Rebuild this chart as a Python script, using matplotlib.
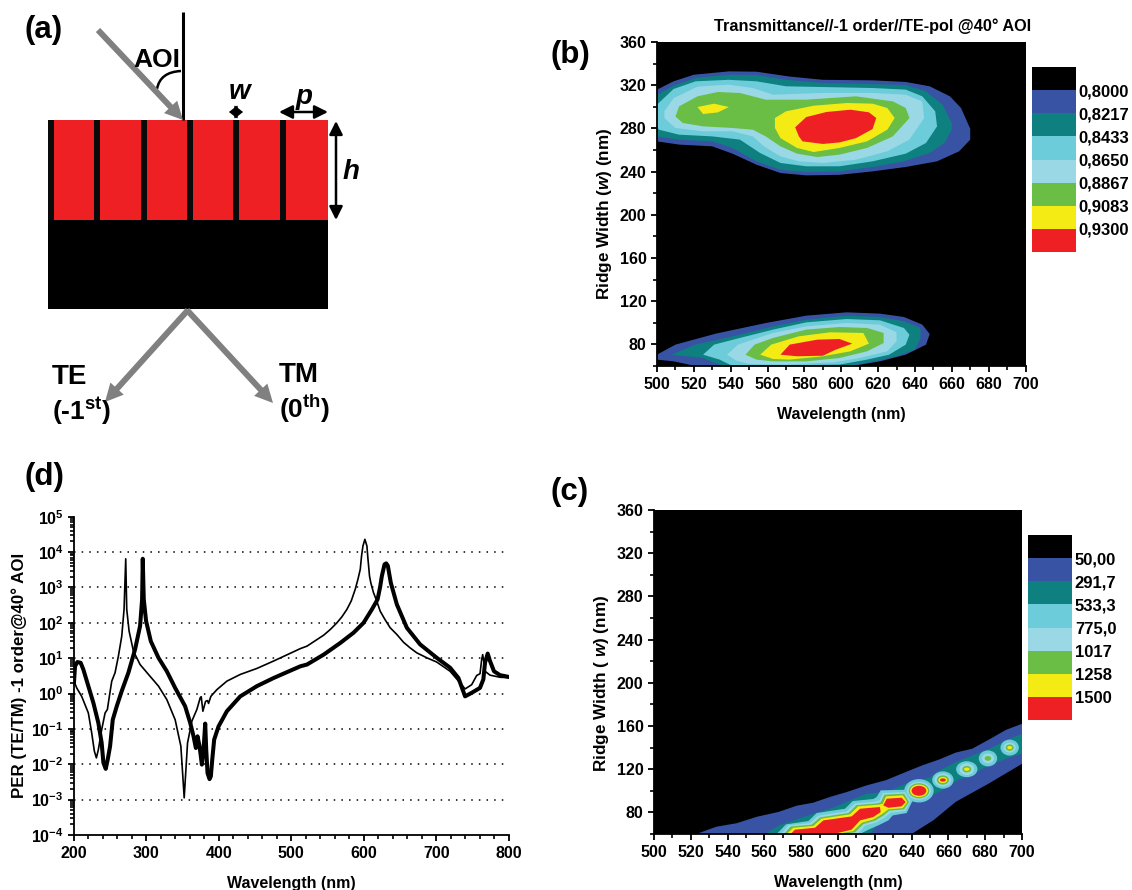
import matplotlib
matplotlib.use("Agg")
import matplotlib.pyplot as plt
import numpy as np
from matplotlib.patches import Ellipse, Rectangle, PathPatch
from matplotlib.path import Path
from matplotlib.ticker import MultipleLocator, FixedLocator, NullFormatter

plt.rcParams['font.family'] = ['Liberation Sans', 'DejaVu Sans']
plt.rcParams['font.weight'] = 'bold'
plt.rcParams['axes.labelweight'] = 'bold'
plt.rcParams['mathtext.fontset'] = 'custom'
plt.rcParams['mathtext.rm'] = 'Liberation Sans:bold'
plt.rcParams['mathtext.bf'] = 'Liberation Sans:bold'
plt.rcParams['mathtext.it'] = 'Liberation Sans:italic:bold'
plt.rcParams['mathtext.default'] = 'rm'

W, H = 1132, 890

# contour colours, lowest level (black) to highest
colors = ['#000000', '#3953A4', '#0E8080', '#6DCCDA', '#9AD8E6', '#6ABD45', '#F5EB14', '#EE2024']

# legend labels
b_levels = ['0,8000', '0,8217', '0,8433', '0,8650', '0,8867', '0,9083', '0,9300']
c_levels = ['50,00', '291,7', '533,3', '775,0', '1017', '1258', '1500']

# (b) upper lobe contour outlines, (wavelength, width)
b_up_1 = [(500,315.9),(509,323.6),(520,329.7),(539,332.8),(554,332.5),(572,328),(590,325),(617,324.5),(635,323),(648,319),(659,309.7),(665,298.9),(670,279.7),(670,269.6),(664,258.8),(652,249.5),(635,244.3),(617,240.2),(599,237),(581,236.5),(567,238.7),(554,246.4),(541,256.6),(530,263.4),(512,265),(500,268)]
b_up_2 = [(500,311),(509,319.6),(521,326.7),(539,329.7),(554,329.4),(570,325),(590,322),(617,321),(635,320),(646,314.3),(655,302),(660,285),(660,278.8),(656,266.5),(648,257.2),(634,249.5),(617,244.3),(599,240.2),(581,239.6),(567,241.8),(554,249.5),(541,261.9),(530,268),(512,269.6),(500,272.6)]
b_up_3 = [(500,302),(509,316.5),(521,323.6),(539,325),(554,323.6),(570,319),(590,318.3),(617,317.4),(635,315.9),(644,309.7),(651,295.8),(652,281.9),(646,266.5),(635,256.6),(617,249.5),(599,244.9),(581,244.9),(567,248),(556,257.2),(545,269.6),(530,272.6),(512,274.2),(501,278.8),(500,281.9)]
b_up_4 = [(504,295.8),(509,308),(522,318.7),(539,320.5),(552,317.4),(563,311.2),(590,312.8),(617,312.8),(635,311.2),(644,305),(645,289.6),(637,269.6),(625,258.8),(608,251),(590,248),(577,249.5),(567,254.1),(558,263.4),(552,272.6),(541,277.3),(525,277.3),(510,280.4),(504,289.6)]
b_up_5 = [(510,291),(512,300.4),(522,309.7),(533,313.7),(545,312.8),(559,306.6),(581,306.6),(608,309.7),(628,305),(635,298.9),(637,289.6),(628,272.6),(614,261.9),(599,255.7),(587,253.5),(576,256.6),(567,263.4),(559,272.6),(552,278.8),(541,280.4),(525,281.9),(514,285)]
b_up_6 = [(564,289.6),(570,295.8),(585,301),(603,303.5),(617,302.9),(625,298.9),(629,289.6),(625,278.8),(614,268),(599,261.9),(585,258.1),(576,261.9),(567,271),(564,280.4)]
b_up_6b = [(522,299.8),(531,302.9),(539,299.8),(533,294.8),(525,293.3)]
b_up_7 = [(575,281),(581,290.5),(592,295.2),(605,297.3),(615,294.9),(619,289.6),(617,279.4),(608,271),(599,267),(590,265.6),(579,268),(577,272.6)]

# (b) lower lobe
b_lo_1 = [(500,70.5),(510,79.8),(532,90),(559,99.8),(581,106.6),(603,109.7),(621,108.5),(634,105.4),(644,98.3),(648,89.6),(646,79.8),(635,70.5),(621,64.3),(606,60),(521,60),(509,64.3),(500,65.9)]
b_lo_2 = [(508,70.5),(521,79.8),(545,89),(563,96.7),(581,102.9),(603,106.6),(621,105.4),(634,101.4),(643,95.2),(643,86),(640,75.1),(630,69),(615,63.4),(605,60),(536,60),(525,67.4)]
b_lo_3 = [(525,70.5),(531,79.8),(545,86),(563,93.7),(581,100.4),(603,103.5),(621,102.3),(634,95.2),(637,89),(635,79.8),(626,70.5),(614,65.9),(599,61.3),(541,60),(534,65.9)]
b_lo_4 = [(538,70.5),(544,79.8),(563,90.6),(581,96.7),(603,99.8),(621,98.3),(630,91.2),(630,82.9),(625,73.6),(610,67.4),(596,63.4),(570,61.3),(550,61.9),(543,65)]
b_lo_5 = [(548,70.5),(553,79.8),(563,86),(581,93.7),(599,96.1),(614,95.2),(623,90.6),(623,81.3),(614,73.6),(599,67.4),(581,64.3),(563,64.3),(554,65.9)]
b_lo_6 = [(556,70.5),(562,79.8),(577,87.5),(594,91.2),(612,90.6),(615,80.7),(605,73.6),(590,69),(572,65.9),(563,66.5)]
b_lo_7 = [(567,70.5),(572,79.8),(587,84.4),(599,85),(606,80.7),(597,75.1),(590,69.5),(576,69)]

# (c) diagonal band outlines
c_1 = [(523,60),(534,66.8),(545,70),(556,76),(568,80.6),(577.5,86.2),(586.5,89),(596,94.5),(605,99),(615.5,105),(626,109.8),(637,117.5),(646,123.7),(655,129),(664,135.4),(673,139),(682,147.4),(691.5,156.6),(700,162),(700,125),(682,106.8),(664,89.8),(652,72.9),(640,60)]
c_2 = [(560.3,60),(568.4,68.3),(581.2,75.7),(598.4,85),(606.5,91.1),(615.6,97.3),(626.5,99),(637.2,106.8),(649.9,112.3),(655.3,119),(664.3,126.8),(673.4,132.9),(682.4,139),(691.5,146.8),(700,152.9),(700,134.5),(691.5,129.8),(682.4,123.7),(673.4,116),(664.3,109.2),(655.3,99.1),(646.2,92.9),(637.2,86.8),(631.8,78.5),(622.7,71.4),(617.3,60)]
c_3 = [(566.7,60),(571.7,68.9),(583.9,72),(588.4,79.4),(603.8,83.4),(608,90.5),(619.2,92.4),(621,94.2),(623.2,100.4),(637.3,101),(640.6,91.1),(637.3,79.4),(629.7,77.2),(627.4,72.6),(621.9,68),(616.5,64),(612,60)]
c_4 = [(569.2,60),(573,68),(584.8,70.1),(589.3,76.9),(604.7,81),(609.2,88.3),(620.1,89.9),(622.5,91.1),(624.3,97.9),(636.4,98.8),(639.5,90.5),(636.6,81.3),(628.6,79.7),(625.5,75.4),(621,70.8),(614.7,67.7),(610.5,60)]
c_5 = [(570.6,60),(574.3,67),(585.7,68.6),(590.2,75.4),(605.6,79.4),(610.1,86.8),(621,88.3),(623.2,89.3),(625.2,96.4),(635.9,97.3),(638.6,89.6),(635.9,82.8),(627.9,81.6),(624.6,76.9),(620.1,72.3),(613.8,69.2),(609.2,61.5),(600.2,60)]
c_6 = [(572.1,60),(575.7,65.8),(586.6,67.4),(591.1,74.2),(606.5,78.2),(611,85.6),(621.9,87.1),(624.3,88),(626.1,94.8),(635.2,95.8),(637.7,89.6),(635.2,84),(627.4,82.8),(623.7,78.2),(619.2,73.5),(612.9,70.4),(608.3,62.7),(598.9,60)]
c_7 = [(574.3,60),(576.6,64),(587.5,65.8),(592,72.6),(607.4,76.3),(612,83.4),(622.8,85),(623.2,80.3),(619.2,75.7),(612,72.6),(607.4,64),(597.5,60)]
c_7b = [(624.6,86.5),(626.5,92.7),(634.6,93.6),(636.8,89.6),(634.6,85.6),(627.4,84.3)]

# (c) isolated peaks: wavelength, width, half span in wavelength, half span in width
c_blobs_3 = [(644,100,8,10.8),(657,110,5.8,8),(670,120,5.8,7.4),(681.5,130,5,7.4),(693.3,140,5,7.4)]
c_blobs_4 = [(644,100,6.5,8.3),(657,110,4.5,6),(670,120,4,5.5),(681.5,130,3.3,4.6),(693.3,140,3.3,4.6)]
c_blobs_5 = [(644,100,5.6,7),(657,110,3.3,4.3),(670,120,2.4,3),(681.5,130,1.8,2.2),(693.3,140,2.2,3)]
c_blobs_6 = [(644,100,4.9,5.8),(657,110,2.4,2.8),(670,120,1.5,1.5),(693.3,140,1.3,1.5)]
c_blobs_7 = [(644,100,4,4.6),(657,110,1.6,1.5)]

# (d) PER curves, wavelength and log10(PER)
thin_wl = [200,203.7,210.6,219.8,224.4,228.1,230.9,233.6,238.2,242.9,246.1,248.8,252.1,256.7,261.3,265.9,269.1,271.4,272.8,276,282,291.2,302.8,316.6,328.1,339.6,347.5,350.2,352.1,353.9,356.7,362.7,369.6,374.2,375.6,377.9,381.6,384.3,385.7,388.9,397.2,411,429.5,452.5,475.6,512.4,521.6,544.6,553.7,562.9,569.8,576.7,582.7,588.2,591.9,595.1,596.9,598.8,601.5,604.3,605.6,607.9,609.7,613.4,617.1,622.6,629,636.4,645.6,654.8,664,673.2,687,700.7,719.1,732.9,739.8,748.9,755.8,760.4,762.7,764.1,765.9,767.3,774.2,788,800]
thin_log = [0.35,0.16,-0.08,-0.55,-1.11,-1.63,-1.82,-1.59,-1.02,-0.55,-0.45,-0.08,0.35,0.59,1.06,1.62,2.38,3.81,2.38,1.77,1.20,0.82,0.54,0.21,-0.17,-0.74,-1.49,-2.34,-2.95,-2.34,-1.40,-0.78,-0.45,-0.12,-0.09,-0.50,-0.22,-0.20,-0.28,-0.08,0.11,0.35,0.54,0.71,0.92,1.27,1.34,1.65,1.81,2.0,2.17,2.38,2.62,2.95,3.23,3.51,3.89,4.17,4.36,4.17,3.84,3.32,3.13,2.85,2.66,2.33,2.10,1.86,1.67,1.45,1.29,1.15,1.01,0.89,0.63,0.30,0.13,0.25,0.51,0.56,0.96,1.10,0.87,0.63,0.52,0.46,0.45]
thick_wl = [200,201.4,204.6,209.2,212.9,219.8,226.7,233.6,238.2,240.6,243.8,246.5,249.8,253.5,259,265.9,275.1,284.3,291.2,294,294.9,296.3,299.5,306,316.6,328.1,339.6,353.4,360.4,365,368.2,370.5,373.3,376.5,378.8,381.1,382.5,384.3,387.1,388.9,390.8,393.5,399.5,411,429.5,452.5,475.6,512.4,521.6,544.6,567.5,585.9,599.7,611.2,619,622.6,624.9,628.6,630.9,633.2,637.3,645.6,659.4,677.7,700.7,719.1,730.6,739.8,748.9,760.4,765,767.3,771,774.2,779.7,788,800]
thick_log = [0.32,0.77,0.89,0.87,0.68,0.21,-0.26,-0.83,-1.40,-1.96,-2.13,-1.87,-1.49,-0.74,-0.36,0.07,0.59,1.25,1.91,2.66,3.81,2.66,2.05,1.48,1.01,0.63,0.16,-0.36,-0.83,-1.21,-1.54,-1.21,-1.49,-2.01,-1.59,-0.85,-1.59,-2.25,-2.42,-2.34,-1.87,-1.30,-0.93,-0.50,-0.08,0.21,0.44,0.77,0.82,1.10,1.43,1.72,2.0,2.38,2.66,3.02,3.32,3.65,3.68,3.61,3.13,2.52,1.86,1.39,1.01,0.73,0.44,-0.08,0.02,0.16,0.40,0.87,1.13,0.92,0.63,0.52,0.47]
d_grid_decades = [-3,-2,-1,0,1,2,3,4]


def px_axes(left, top, right, bottom):
    return fig.add_axes([left/W, 1-bottom/H, (right-left)/W, (bottom-top)/H])


def fill_poly(ax, pts, color):
    xs = [p[0] for p in pts]
    ys = [p[1] for p in pts]
    ax.fill(xs, ys, color=color, lw=0)


def style_ticks(ax):
    ax.tick_params(which='major', length=4.5, width=1.3, labelsize=11.5)
    ax.tick_params(axis='x', which='major', pad=3.5)
    ax.tick_params(axis='y', which='major', pad=3)
    ax.tick_params(which='minor', length=2.7, width=1.2)
    ax.spines['top'].set_visible(False)
    ax.spines['right'].set_visible(False)
    ax.spines['left'].set_linewidth(1.3)
    ax.spines['bottom'].set_linewidth(1.3)


def style_map(ax, ylabel, label_y):
    ax.set_facecolor(colors[0])
    ax.set_xlim(500, 700)
    ax.set_ylim(60, 360)
    ax.xaxis.set_major_locator(MultipleLocator(20))
    ax.xaxis.set_minor_locator(MultipleLocator(10))
    ax.yaxis.set_major_locator(FixedLocator(np.arange(80, 361, 40)))
    ax.yaxis.set_minor_locator(MultipleLocator(20))
    style_ticks(ax)
    ax.set_xlabel('Wavelength (nm)', fontsize=11.5, labelpad=11)
    ax.set_ylabel(ylabel, fontsize=12.3, labelpad=4, y=label_y)


def level_key(left, top, right, bottom, labels):
    cax = px_axes(left, top, right, bottom)
    cax.barh(range(len(colors)), 1, height=1, color=colors, lw=0)
    cax.set_xlim(0, 1)
    cax.set_ylim(len(colors)-0.5, -0.5)
    cax.set_xticks([])
    cax.set_yticks(np.arange(len(labels))+0.5)
    cax.set_yticklabels(labels)
    cax.yaxis.tick_right()
    cax.tick_params(axis='y', length=0, labelsize=12, pad=2)
    for s in cax.spines.values():
        s.set_visible(False)


fig = plt.figure(figsize=(W/100, H/100), dpi=100)

# overlay in pixel units for the schematic and panel letters
ov = fig.add_axes([0, 0, 1, 1])
ov.set_xlim(0, W)
ov.set_ylim(H, 0)
ov.axis('off')

# (a) schematic
ov.add_patch(Rectangle((48, 120), 280, 100, fc='#EE2024', ec='none'))
ov.add_patch(Rectangle((48, 220), 280, 89, fc='black', ec='none'))
for gx in [48, 94.3, 141, 187, 233.3, 279.7]:
    ov.add_patch(Rectangle((gx, 120), 6, 100, fc='#0A0A0A', ec='none'))
ov.plot([183, 183], [12, 120], color='black', lw=2.2, solid_capstyle='butt')
grey = dict(width=4.3, headwidth=13, headlength=13, color='#808080', shrink=0, lw=0)
ov.annotate('', xy=(183, 120), xytext=(98, 30), arrowprops=grey)
ov.annotate('', xy=(105, 402), xytext=(188, 310), arrowprops=grey)
ov.annotate('', xy=(273, 403), xytext=(187, 310), arrowprops=grey)
ov.add_patch(PathPatch(Path([(157, 89), (160, 72), (181, 71)], [Path.MOVETO, Path.CURVE3, Path.CURVE3]),
                       fc='none', ec='black', lw=1.8))
dbl = dict(arrowstyle='<|-|>', color='black', lw=1.8, mutation_scale=20, shrinkA=0, shrinkB=0)
ov.annotate('', xy=(229, 112), xytext=(243, 112), arrowprops=dict(arrowstyle='<|-|>,head_length=0.5,head_width=0.4', color='black', lw=1, mutation_scale=10, shrinkA=0, shrinkB=0))
ov.annotate('', xy=(279, 112), xytext=(328, 112), arrowprops=dbl)
ov.annotate('', xy=(336, 121), xytext=(336, 220), arrowprops=dbl)

ov.text(157, 60, 'AOI', fontsize=19, ha='center', va='center')
ov.text(239, 92, 'w', fontsize=20, style='italic', ha='center', va='center')
ov.text(304, 97, 'p', fontsize=20, style='italic', ha='center', va='center')
ov.text(351, 172, 'h', fontsize=20, style='italic', ha='center', va='center')
ov.text(52, 377, 'TE', fontsize=20, ha='left', va='center')
ov.text(279, 375, 'TM', fontsize=20, ha='left', va='center')
ov.text(52, 411, '(-1$^{st}$)', fontsize=19, ha='left', va='center')
ov.text(279, 409, '(0$^{th}$)', fontsize=19, ha='left', va='center')

# panel letters
ov.text(24, 30, '(a)', fontsize=22.5, ha='left', va='center')
ov.text(551, 55, '(b)', fontsize=22.5, ha='left', va='center')
ov.text(551, 492, '(c)', fontsize=22.5, ha='left', va='center')
ov.text(24, 477, '(d)', fontsize=22.5, ha='left', va='center')

# (b) transmittance map
axb = px_axes(657, 42, 1025.5, 366)
style_map(axb, 'Ridge Width ($\\mathit{w}$) (nm)', 0.469)
for pts, c in zip([b_up_1, b_up_2, b_up_3, b_up_4, b_up_5, b_up_6, b_up_6b, b_up_7],
                  colors[1:7] + [colors[6], colors[7]]):
    fill_poly(axb, pts, c)
for pts, c in zip([b_lo_1, b_lo_2, b_lo_3, b_lo_4, b_lo_5, b_lo_6, b_lo_7], colors[1:]):
    fill_poly(axb, pts, c)
axb.set_title('Transmittance//-1 order//TE-pol @40° AOI', fontsize=11.7, x=0.585, pad=8, fontweight='bold')
level_key(1032, 67, 1076, 252, b_levels)

# (c) PER map
axc = px_axes(654, 510, 1022, 834)
style_map(axc, 'Ridge Width ( $\\mathit{w}$) (nm)', 0.466)
bands = [c_1, c_2, c_3, c_4, c_5, c_6, c_7]
blobs = [[], [], c_blobs_3, c_blobs_4, c_blobs_5, c_blobs_6, c_blobs_7]
for i in range(7):
    fill_poly(axc, bands[i], colors[i+1])
    if i == 6:
        fill_poly(axc, c_7b, colors[7])
    for cx, cy, a, b in blobs[i]:
        axc.add_patch(Ellipse((cx, cy), 2*a, 2*b, fc=colors[i+1], ec='none'))
level_key(1028, 535, 1072, 720, c_levels)

# (d) PER spectra
axd = px_axes(74, 516.7, 508.7, 835)
axd.set_yscale('log')
axd.set_xlim(200, 800)
axd.set_ylim(1e-4, 1e5)
axd.hlines(10.0**np.array(d_grid_decades), 200, 800, color='black', lw=1.1, linestyles=(0, (1, 4)))
axd.plot(thin_wl, 10**np.array(thin_log), color='black', lw=1.2, solid_joinstyle='round')
axd.plot(thick_wl, 10**np.array(thick_log), color='black', lw=2.9, solid_joinstyle='round')
axd.xaxis.set_major_locator(MultipleLocator(100))
axd.xaxis.set_minor_locator(MultipleLocator(20))
axd.yaxis.set_major_locator(FixedLocator(10.0**np.arange(-4, 6)))
axd.yaxis.set_minor_locator(FixedLocator([m*10.0**e for e in range(-4, 5) for m in range(2, 10)]))
axd.yaxis.set_minor_formatter(NullFormatter())
axd.set_yticklabels(['10$^{%d}$' % e for e in range(-4, 6)])
style_ticks(axd)
axd.set_xlabel('Wavelength (nm)', fontsize=11.5, labelpad=10.5)
axd.set_ylabel('PER (TE/TM) -1 order@40° AOI', fontsize=12.2, labelpad=3)

fig.savefig('out.png', dpi=100)
